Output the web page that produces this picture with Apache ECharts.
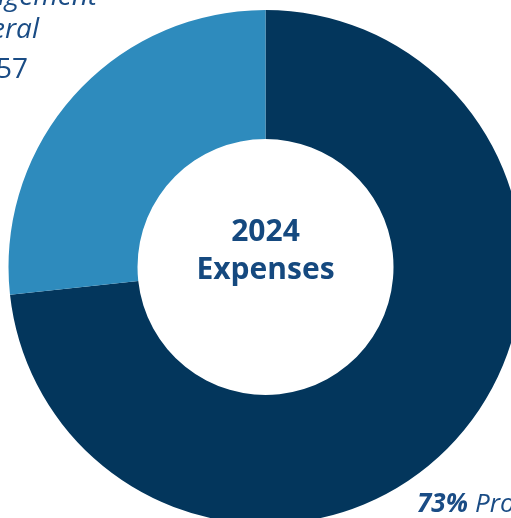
<!DOCTYPE html>
<html>
<head>
<meta charset="utf-8">
<script src="https://cdn.jsdelivr.net/npm/echarts@6/dist/echarts.min.js"></script>
<style>
  html, body { margin: 0; padding: 0; background: #ffffff; }
  #chart { width: 511px; height: 518px; }
</style>
</head>
<body>
<div id="chart"></div>
<script>
  // slices, clockwise from 12 o'clock
  const categories = ['Program Services', 'Management & General'];
  const amounts = [3392243, 1237457];
  const colors = ['#03365c', '#2e8bbd'];
  const centerTitle = ['2024', 'Expenses'];

  const total = amounts[0] + amounts[1];
  const percents = amounts.map(function(v) { return Math.round(v / total * 100); });
  const money = function(v) { return '$' + v.toLocaleString('en-US'); };

  const textColor = '#1a4c85';
  const fontFamily = '"Open Sans", sans-serif';

  const myChart = echarts.init(document.getElementById('chart'));

  const option = {
    backgroundColor: '#ffffff',
    animation: false,
    series: [{
      type: 'pie',
      center: [265.5, 267],
      radius: [128, 257],
      startAngle: 90,
      clockwise: true,
      label: { show: false },
      labelLine: { show: false },
      emphasis: { disabled: true },
      itemStyle: { borderWidth: 0 },
      data: categories.map(function(name, i) {
        return { name: name, value: amounts[i], itemStyle: { color: colors[i] } };
      })
    }],
    graphic: [
      // centre text
      {
        type: 'text', x: 265.5, y: 232,
        style: { text: centerTitle[0], fill: '#15497f', font: 'bold 30px ' + fontFamily, align: 'center', verticalAlign: 'middle' }
      },
      {
        type: 'text', x: 265.5, y: 270,
        style: { text: centerTitle[1], fill: '#15497f', font: 'bold 30px ' + fontFamily, align: 'center', verticalAlign: 'middle' }
      },
      // top-left label (Management & General), cut by the left edge
      {
        type: 'text', x: 97, y: -3,
        style: {
          text: '{b|' + percents[1] + '%} {n|Management}',
          align: 'right', verticalAlign: 'middle',
          rich: {
            b: { fill: textColor, font: 'italic bold 28px ' + fontFamily },
            n: { fill: textColor, font: 'italic 28px ' + fontFamily }
          }
        }
      },
      {
        type: 'text', x: 39, y: 30,
        style: { text: '& General', fill: textColor, font: 'italic 28px ' + fontFamily, align: 'right', verticalAlign: 'middle' }
      },
      {
        type: 'text', x: 28, y: 70,
        style: { text: money(amounts[1]), fill: textColor, font: '28px ' + fontFamily, align: 'right', verticalAlign: 'middle' }
      },
      // bottom-right label (Program Services)
      {
        type: 'text', x: 417, y: 505,
        style: { text: percents[0] + '%', fill: textColor, font: 'italic bold 26px ' + fontFamily, align: 'left', verticalAlign: 'middle' }
      },
      {
        type: 'text', x: 475, y: 505,
        style: { text: categories[0], fill: textColor, font: 'italic 26px ' + fontFamily, align: 'left', verticalAlign: 'middle' }
      }
    ]
  };

  myChart.setOption(option);
</script>
</body>
</html>
